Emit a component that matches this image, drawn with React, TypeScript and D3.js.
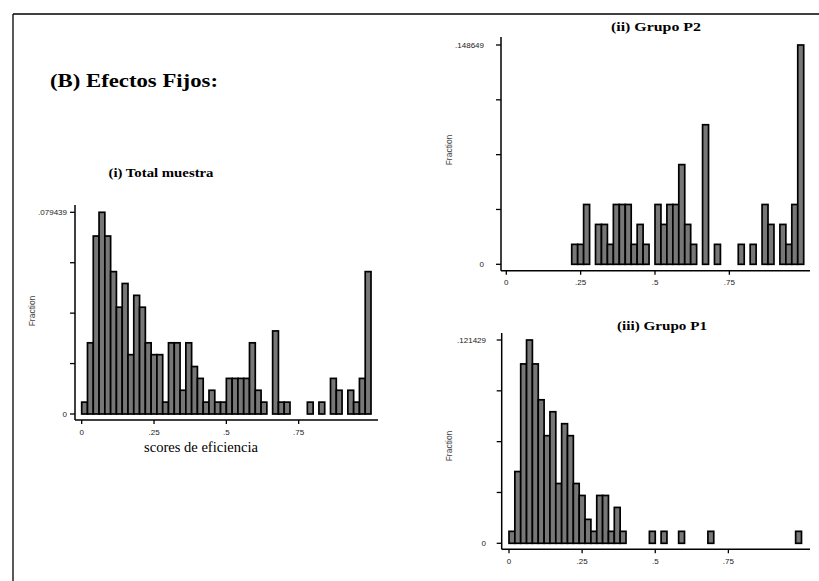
import React from "react";
import * as d3 from "d3";

// ---- data (counts per bin, 50 bins of width 0.02 over [0,1]) ----
const BIN_WIDTH = 0.02;
const binStarts = d3.range(50).map((i) => i * BIN_WIDTH);

const totalCounts = [1, 6, 15, 17, 15, 12, 9, 11, 5, 10, 9, 6, 5, 5, 1, 6, 6, 2, 6, 4, 3, 1, 2, 1, 1, 3, 3, 3, 3, 6, 2, 1, 0, 7, 1, 1, 0, 0, 0, 1, 0, 1, 0, 3, 2, 0, 2, 1, 3, 12];
const p2Counts = [0, 0, 0, 0, 0, 0, 0, 0, 0, 0, 0, 1, 1, 3, 0, 2, 2, 1, 3, 3, 3, 1, 2, 1, 0, 3, 2, 3, 3, 5, 2, 1, 0, 7, 0, 1, 0, 0, 0, 1, 0, 1, 0, 3, 2, 0, 2, 1, 3, 11];
const p1Counts = [1, 6, 15, 17, 15, 12, 9, 11, 5, 10, 9, 5, 4, 2, 1, 4, 4, 1, 3, 1, 0, 0, 0, 0, 1, 0, 1, 0, 0, 1, 0, 0, 0, 0, 1, 0, 0, 0, 0, 0, 0, 0, 0, 0, 0, 0, 0, 0, 0, 1];

const xTickValues = [0, 0.25, 0.5, 0.75];
const xTickLabels = ["0", ".25", ".5", ".75"];
const totalYLabels = ["0", ".079439"];
const p2YLabels = ["0", ".148649"];
const p1YLabels = ["0", ".121429"];

const mainTitle = "(B) Efectos Fijos:";
const totalTitle = "(i) Total muestra";
const p2Title = "(ii) Grupo P2";
const p1Title = "(iii) Grupo P1";
const xAxisTitle = "scores de eficiencia";
const yAxisTitle = "Fraction";

type Layout = {
  xr: [number, number];
  yBase: number;
  yTop: number;
  axisX: number;
  axisTop: number;
  axisY: number;
  axisRight: number;
  yLabelRight: number;
  fracX: number;
  fracY: number;
  xLabelY: number;
  titleX: number;
  titleY: number;
  titleW: number;
};

const SERIF = "'Liberation Serif', 'DejaVu Serif', serif";
const SANS = "'Liberation Sans', Arial, sans-serif";

function Histogram({ counts, yLabels, title, L }: { counts: number[]; yLabels: string[]; title: string; L: Layout }) {
  const n = d3.sum(counts);
  const maxFrac = (d3.max(counts) as number) / n;
  const x = d3.scaleLinear().domain([0, 1]).range(L.xr);
  const y = d3.scaleLinear().domain([0, maxFrac]).range([L.yBase, L.yTop]);
  const yTicks = d3.range(5).map((i) => (i * maxFrac) / 4);
  return (
    <g>
      <text
        x={L.titleX}
        y={L.titleY}
        textAnchor="middle"
        fontFamily={SERIF}
        fontWeight="bold"
        fontSize={13}
        textLength={L.titleW}
        lengthAdjust="spacingAndGlyphs"
      >
        {title}
      </text>
      {binStarts.map((b, i) =>
        counts[i] > 0 ? (
          <rect
            key={i}
            x={x(b)}
            width={x(b + BIN_WIDTH) - x(b)}
            y={y(counts[i] / n)}
            height={L.yBase - y(counts[i] / n)}
            fill="#777777"
            stroke="#000"
            strokeWidth={1.7}
          />
        ) : null
      )}
      {/* y axis */}
      <line x1={L.axisX} x2={L.axisX} y1={L.axisTop} y2={L.axisY} stroke="#000" strokeWidth={1.5} />
      {yTicks.map((t, i) => (
        <line key={i} x1={L.axisX - 5} x2={L.axisX} y1={y(t)} y2={y(t)} stroke="#000" strokeWidth={1.3} />
      ))}
      <text x={L.yLabelRight} y={y(0) + 3} textAnchor="end" fontFamily={SANS} fontSize={8} fill="#222">
        {yLabels[0]}
      </text>
      <text x={L.yLabelRight} y={y(maxFrac) + 3} textAnchor="end" fontFamily={SANS} fontSize={8} fill="#222">
        {yLabels[1]}
      </text>
      <text
        transform={`translate(${L.fracX},${L.fracY}) rotate(-90)`}
        textAnchor="middle"
        fontFamily={SANS}
        fontSize={8.5}
        fill="#444"
      >
        {yAxisTitle}
      </text>
      {/* x axis */}
      <line x1={L.axisX} x2={L.axisRight} y1={L.axisY} y2={L.axisY} stroke="#000" strokeWidth={1.6} />
      {xTickValues.map((t, i) => (
        <g key={i}>
          <line x1={x(t)} x2={x(t)} y1={L.axisY} y2={L.axisY + 4} stroke="#000" strokeWidth={1.3} />
          <text x={x(t)} y={L.xLabelY} textAnchor="middle" fontFamily={SANS} fontSize={8} fill="#222">
            {xTickLabels[i]}
          </text>
        </g>
      ))}
    </g>
  );
}

const layoutTotal: Layout = {
  xr: [81.7, 371],
  yBase: 414,
  yTop: 212.3,
  axisX: 75,
  axisTop: 205,
  axisY: 420,
  axisRight: 378,
  yLabelRight: 67,
  fracX: 35,
  fracY: 311,
  xLabelY: 434.5,
  titleX: 161,
  titleY: 177,
  titleW: 105,
};

const layoutP2: Layout = {
  xr: [506.3, 803.7],
  yBase: 264.3,
  yTop: 45,
  axisX: 501,
  axisTop: 37,
  axisY: 270.7,
  axisRight: 810,
  yLabelRight: 484,
  fracX: 452,
  fracY: 150,
  xLabelY: 285,
  titleX: 656,
  titleY: 31,
  titleW: 90,
};

const layoutP1: Layout = {
  xr: [509, 801.5],
  yBase: 543.3,
  yTop: 340,
  axisX: 501.7,
  axisTop: 333,
  axisY: 549.3,
  axisRight: 810,
  yLabelRight: 486,
  fracX: 452,
  fracY: 446,
  xLabelY: 564,
  titleX: 662,
  titleY: 330,
  titleW: 90,
};

export default function App() {
  return (
    <svg
      width={819}
      height={581}
      style={{ position: "absolute", left: 0, top: 0, background: "#fff" }}
    >
      <rect x={0} y={0} width={819} height={581} fill="#fff" />
      <line x1={13} x2={819} y1={14} y2={14} stroke="#000" strokeWidth={1.3} />
      <line x1={13} x2={13} y1={14} y2={581} stroke="#000" strokeWidth={1.3} />
      <text
        x={50}
        y={87}
        fontFamily={SERIF}
        fontWeight="bold"
        fontSize={19}
        textLength={168}
        lengthAdjust="spacingAndGlyphs"
      >
        {mainTitle}
      </text>
      <Histogram counts={totalCounts} yLabels={totalYLabels} title={totalTitle} L={layoutTotal} />
      <text
        x={201}
        y={452}
        textAnchor="middle"
        fontFamily={SERIF}
        fontSize={14}
        textLength={114}
        lengthAdjust="spacingAndGlyphs"
      >
        {xAxisTitle}
      </text>
      <Histogram counts={p2Counts} yLabels={p2YLabels} title={p2Title} L={layoutP2} />
      <Histogram counts={p1Counts} yLabels={p1YLabels} title={p1Title} L={layoutP1} />
    </svg>
  );
}
